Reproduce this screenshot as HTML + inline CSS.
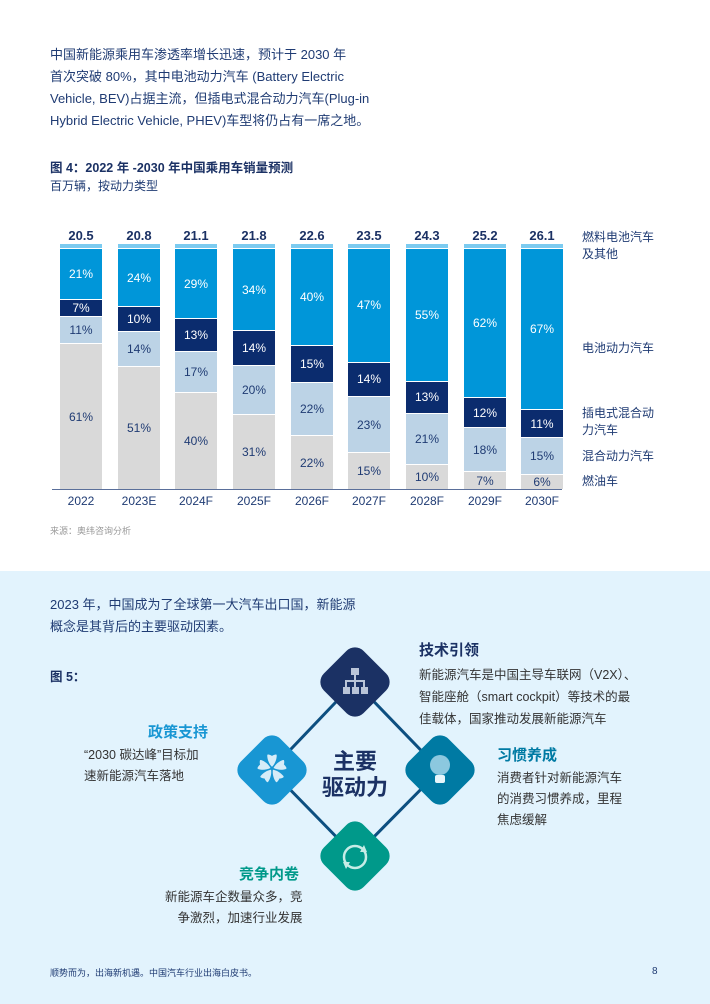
<!DOCTYPE html>
<html><head><meta charset="utf-8"><style>
*{margin:0;padding:0;box-sizing:border-box}
body{width:710px;height:1004px;position:relative;background:#fff;font-family:"Liberation Sans","Noto Sans CJK SC",sans-serif;color:#1f3b73;overflow:hidden}
.a{position:absolute;white-space:nowrap}
.p{font-size:13px;line-height:22px}
.bar{position:absolute;top:244px;height:245px;width:42px;display:flex;flex-direction:column}
.bar div{display:flex;align-items:center;justify-content:center;font-size:12px;border-top:1px solid #fff;overflow:hidden}
.bar .s{height:4px;flex:none;background:#7ccbf0;border:none}
.b{background:#0096d9;color:#fff}.ph{background:#0b2c6e;color:#fff}.h{background:#bcd3e6;color:#1f3b73}.i{background:#d9d9d9;color:#1f3b73}
.v{position:absolute;top:228px;width:42px;text-align:center;font-weight:bold;font-size:13px;color:#1b3164}
.y{position:absolute;top:494px;width:60px;text-align:center;font-size:12px;color:#1f3b73}
.r{position:absolute;left:582px;font-size:12px;line-height:17px;color:#1f3b73}
.d{position:absolute;width:56px;height:56px;border-radius:12px;transform:rotate(45deg)}
</style></head><body>
<div class="a p" style="left:50px;top:44px">中国新能源乘用车渗透率增长迅速，预计于 2030 年<br>首次突破 80%，其中电池动力汽车 (Battery Electric<br>Vehicle, BEV)占据主流，但插电式混合动力汽车(Plug-in<br>Hybrid Electric Vehicle, PHEV)车型将仍占有一席之地。</div>
<div class="a" style="left:50px;top:157px;font-size:12.5px;font-weight:bold;color:#1b3164">图 4：2022 年 -2030 年中国乘用车销量预测</div>
<div class="a" style="left:50px;top:177px;font-size:12px">百万辆，按动力类型</div>

<div class="v" style="left:60px">20.5</div><div class="bar" style="left:60px"><div class="s"></div><div class="b" style="flex:21">21%</div><div class="ph" style="flex:7">7%</div><div class="h" style="flex:11">11%</div><div class="i" style="flex:61">61%</div></div>
<div class="v" style="left:118px">20.8</div><div class="bar" style="left:118px"><div class="s"></div><div class="b" style="flex:24">24%</div><div class="ph" style="flex:10">10%</div><div class="h" style="flex:14">14%</div><div class="i" style="flex:51">51%</div></div>
<div class="v" style="left:175px">21.1</div><div class="bar" style="left:175px"><div class="s"></div><div class="b" style="flex:29">29%</div><div class="ph" style="flex:13">13%</div><div class="h" style="flex:17">17%</div><div class="i" style="flex:40">40%</div></div>
<div class="v" style="left:233px">21.8</div><div class="bar" style="left:233px"><div class="s"></div><div class="b" style="flex:34">34%</div><div class="ph" style="flex:14">14%</div><div class="h" style="flex:20">20%</div><div class="i" style="flex:31">31%</div></div>
<div class="v" style="left:291px">22.6</div><div class="bar" style="left:291px"><div class="s"></div><div class="b" style="flex:40">40%</div><div class="ph" style="flex:15">15%</div><div class="h" style="flex:22">22%</div><div class="i" style="flex:22">22%</div></div>
<div class="v" style="left:348px">23.5</div><div class="bar" style="left:348px"><div class="s"></div><div class="b" style="flex:47">47%</div><div class="ph" style="flex:14">14%</div><div class="h" style="flex:23">23%</div><div class="i" style="flex:15">15%</div></div>
<div class="v" style="left:406px">24.3</div><div class="bar" style="left:406px"><div class="s"></div><div class="b" style="flex:55">55%</div><div class="ph" style="flex:13">13%</div><div class="h" style="flex:21">21%</div><div class="i" style="flex:10">10%</div></div>
<div class="v" style="left:464px">25.2</div><div class="bar" style="left:464px"><div class="s"></div><div class="b" style="flex:62">62%</div><div class="ph" style="flex:12">12%</div><div class="h" style="flex:18">18%</div><div class="i" style="flex:7">7%</div></div>
<div class="v" style="left:521px">26.1</div><div class="bar" style="left:521px"><div class="s"></div><div class="b" style="flex:67">67%</div><div class="ph" style="flex:11">11%</div><div class="h" style="flex:15">15%</div><div class="i" style="flex:6">6%</div></div>
<div class="a" style="left:52px;top:489px;width:510px;height:1px;background:#5a6f9a"></div>
<div class="y" style="left:51px">2022</div><div class="y" style="left:109px">2023E</div><div class="y" style="left:166px">2024F</div><div class="y" style="left:224px">2025F</div><div class="y" style="left:282px">2026F</div><div class="y" style="left:339px">2027F</div><div class="y" style="left:397px">2028F</div><div class="y" style="left:455px">2029F</div><div class="y" style="left:512px">2030F</div>
<div class="r" style="top:229px">燃料电池汽车<br>及其他</div>
<div class="r" style="top:340px">电池动力汽车</div>
<div class="r" style="top:405px">插电式混合动<br>力汽车</div>
<div class="r" style="top:448px">混合动力汽车</div>
<div class="r" style="top:473px">燃油车</div>
<div class="a" style="left:50px;top:524px;font-size:9px;color:#999">来源：奥纬咨询分析</div>

<div class="a" style="left:0;top:571px;width:710px;height:433px;background:#e2f3fd"></div>
<div class="a p" style="left:50px;top:594px">2023 年，中国成为了全球第一大汽车出口国，新能源<br>概念是其背后的主要驱动因素。</div>
<div class="a" style="left:50px;top:666px;font-size:12.5px;font-weight:bold;color:#1b3164">图 5：</div>

<svg class="a" style="left:0;top:0" width="710" height="1004"><polygon points="355,682 440,770 355,856 271,770" fill="none" stroke="#0d4f80" stroke-width="3"/></svg>
<div class="d" style="left:327px;top:654px;background:#1b3164"></div>
<div class="d" style="left:244px;top:742px;background:#1896d3"></div>
<div class="d" style="left:412px;top:742px;background:#007aa3"></div>
<div class="d" style="left:327px;top:828px;background:#00998a"></div>
<svg class="a" style="left:338px;top:667px" width="34" height="30"><g fill="#b9c4d8"><rect x="13" y="1" width="8" height="7"/><rect x="5" y="20" width="7" height="7"/><rect x="14" y="20" width="7" height="7"/><rect x="23" y="20" width="7" height="7"/></g><path d="M17 8v12M8 20v-6h18v6" stroke="#b9c4d8" stroke-width="2" fill="none"/></svg>
<div class="a" style="left:256px;top:755px;width:32px;height:32px;font-size:30px;line-height:32px;text-align:center;color:#d6ecf8">✿</div>
<svg class="a" style="left:425px;top:752px" width="30" height="36"><circle cx="15" cy="13" r="10" fill="#8cc8df"/><rect x="10" y="23" width="10" height="8" rx="2" fill="#e8f6fb"/></svg>
<svg class="a" style="left:338px;top:840px" width="34" height="34"><circle cx="17" cy="17" r="11" fill="none" stroke="#c6ece6" stroke-width="2.5"/><path d="M26 5l3 7-7 0z M8 29l-3-7 7 0z" fill="#c6ece6"/></svg>
<div class="a" style="left:317px;top:749px;width:76px;text-align:center;font-size:22px;line-height:26px;font-weight:bold;color:#1b3164">主要<br>驱动力</div>

<div class="a" style="left:419px;top:639px;font-size:15px;font-weight:bold;color:#1b3164">技术引领</div>
<div class="a" style="left:419px;top:664px;font-size:12.5px;line-height:22px;color:#333">新能源汽车是中国主导车联网（V2X）、<br>智能座舱（smart cockpit）等技术的最<br>佳载体，国家推动发展新能源汽车</div>
<div class="a" style="left:148px;top:721px;font-size:15px;font-weight:bold;color:#1896d3">政策支持</div>
<div class="a" style="left:84px;top:745px;font-size:12.5px;line-height:21px;color:#333">“2030 碳达峰”目标加<br>速新能源汽车落地</div>
<div class="a" style="left:497px;top:744px;font-size:15px;font-weight:bold;color:#007aa3">习惯养成</div>
<div class="a" style="left:497px;top:768px;font-size:12.5px;line-height:21px;color:#333">消费者针对新能源汽车<br>的消费习惯养成，里程<br>焦虑缓解</div>
<div class="a" style="left:239px;top:863px;font-size:15px;font-weight:bold;color:#00998a">竞争内卷</div>
<div class="a" style="left:165px;top:887px;font-size:12.5px;line-height:21px;color:#333;text-align:right">新能源车企数量众多，竞<br>争激烈，加速行业发展</div>
<div class="a" style="left:50px;top:966px;font-size:9px;color:#1f3b73">顺势而为，出海新机遇。中国汽车行业出海白皮书。</div>
<div class="a" style="left:652px;top:966px;font-size:10px;color:#1f3b73">8</div>
</body></html>
